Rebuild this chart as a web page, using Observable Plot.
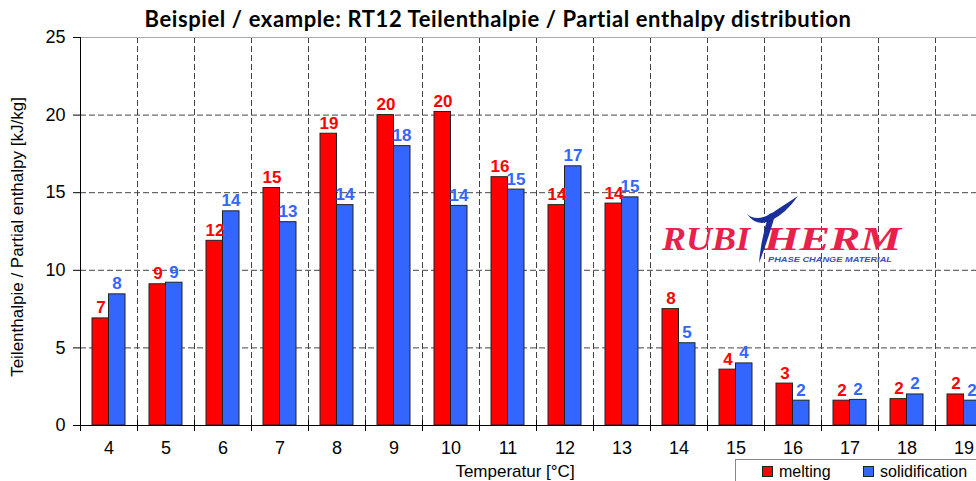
<!DOCTYPE html>
<html>
<head>
<meta charset="utf-8">
<script src="https://cdn.jsdelivr.net/npm/d3@7"></script>
<script src="https://cdn.jsdelivr.net/npm/@observablehq/plot@0.6"></script>
<style>
  html, body { margin: 0; padding: 0; background: white; overflow: hidden; }
  #wrap { position: relative; width: 976px; height: 481px; overflow: hidden; background: white; }
  #wrap svg { position: absolute; left: 0; top: 0; }
  .title { position: absolute; left: 10px; width: 976px; top: 5px; text-align: center;
    font-family: Lato, "Open Sans", sans-serif; font-weight: 700; font-size: 22px; letter-spacing: 0.6px; color: #000; white-space: nowrap; }
  .ylabel { position: absolute; left: 18px; top: 237px; transform: translate(-50%, -50%) rotate(-90deg);
    font-family: "Liberation Sans", Arial, sans-serif; font-size: 17px; white-space: nowrap; color: #000; }
  .xlabel { position: absolute; left: 515px; top: 472px; transform: translate(-50%, -50%);
    font-family: "Liberation Sans", Arial, sans-serif; font-size: 17px; white-space: nowrap; color: #000; }
  .legend { position: absolute; left: 735px; top: 459px; width: 300px; height: 40px; border: 1px solid #888;
    background: white; font-family: "Liberation Sans", Arial, sans-serif; font-size: 16px; color: #000; }
  .legend span.item { position: absolute; top: 3px; white-space: nowrap; }
  .legend span.sw { display: inline-block; width: 9px; height: 9px; border: 1px solid #222; margin-right: 6px; vertical-align: 0px; }
  .logo { position: absolute; left: 0; top: 0; }
</style>
</head>
<body>
<div id="wrap">
  <div id="chart"></div>
  <div class="title">Beispiel / example: RT12 Teilenthalpie / Partial enthalpy distribution</div>
  <div class="ylabel">Teilenthalpie / Partial enthalpy [kJ/kg]</div>
  <div class="xlabel">Temperatur [°C]</div>
  <div class="legend">
    <span class="item" style="left:26px"><span class="sw" style="background:#ff0000"></span>melting</span>
    <span class="item" style="left:127px"><span class="sw" style="background:#3366ff"></span>solidification</span>
  </div>
  <svg class="logo" width="976" height="481" xmlns="http://www.w3.org/2000/svg">
    <text x="662" y="250" font-family="'Liberation Serif', serif" font-style="italic" font-weight="700" font-size="33" fill="#e8204c" textLength="88" lengthAdjust="spacingAndGlyphs">RUBI</text>
    <text x="764" y="250" font-family="'Liberation Serif', serif" font-style="italic" font-weight="700" font-size="33" fill="#e8204c" textLength="137" lengthAdjust="spacingAndGlyphs">HERM</text>
    <path d="M747 214 Q758 224 778 209 L798 196 Q786 213 772 220 Q757 228 747 214 Z" fill="#1a2f9a"/>
    <path d="M769 214 L776 212 Q768 240 759 263 Q761 238 769 214 Z" fill="#1a2f9a"/>
    <text x="768" y="262" font-family="'Liberation Sans', Arial, sans-serif" font-style="italic" font-weight="700" font-size="8" fill="#3b4dbb" textLength="124" lengthAdjust="spacingAndGlyphs">PHASE CHANGE MATERIAL</text>
  </svg>
</div>
<script>
const temps = [4, 5, 6, 7, 8, 9, 10, 11, 12, 13, 14, 15, 16, 17, 18, 19];
const melting = [6.9, 9.1, 11.9, 15.3, 18.8, 20.0, 20.2, 16.0, 14.2, 14.3, 7.5, 3.6, 2.7, 1.6, 1.7, 2.0];
const solidification = [8.45, 9.2, 13.8, 13.1, 14.2, 18.0, 14.15, 15.2, 16.7, 14.7, 5.3, 4.0, 1.6, 1.65, 2.0, 1.6];
const yTicks = [0, 5, 10, 15, 20, 25];
const gridY = [5, 10, 15, 20];

const rows = temps.map((t, i) => ({temp: t, melting: melting[i], solidification: solidification[i]}));

const RED = "#ff0000";
const BLUE = "#3366ff";
const half = 28.5;

const chart = Plot.plot({
  width: 976,
  height: 481,
  marginLeft: 80,
  marginRight: 0,
  marginTop: 37,
  marginBottom: 56,
  style: {fontFamily: "'Liberation Sans', Arial, sans-serif", fontSize: "16px", background: "transparent", color: "#000"},
  x: {type: "band", domain: temps, range: [80, 992], padding: 0},
  y: {domain: [0, 25], range: [425, 37]},
  marks: [
    Plot.ruleX(temps.slice(1), {x: d => d, dx: -half, stroke: "#444", strokeDasharray: "6,3"}),
    Plot.ruleY(gridY, {stroke: "#444", strokeDasharray: "6,3"}),
    Plot.ruleY([25], {stroke: "#aaa"}),
    Plot.barY(rows, {x: "temp", y: "melting", fill: RED, stroke: "#222", strokeWidth: 1, insetLeft: 12, insetRight: half}),
    Plot.barY(rows, {x: "temp", y: "solidification", fill: BLUE, stroke: "#222", strokeWidth: 1, insetLeft: half, insetRight: 12}),
    Plot.ruleY([0], {stroke: "#000"}),
    Plot.ruleX([temps[0]], {x: d => d, dx: -half, stroke: "#000"}),
    Plot.ruleX(temps, {x: d => d, dx: -half, stroke: "#000", insetTop: 383, insetBottom: -6}),
    Plot.axisY({ticks: yTicks, tickSize: 7, tickPadding: 8, fontSize: 18, label: null}),
    Plot.axisX({tickSize: 0, tickPadding: 16, fontSize: 18, label: null}),
    Plot.text(rows, {x: "temp", y: "melting", text: d => String(Math.round(d.melting)), dx: -8, dy: -5,
      lineAnchor: "bottom", fill: RED, fontWeight: "bold", fontSize: 17}),
    Plot.text(rows, {x: "temp", y: "solidification", text: d => String(Math.round(d.solidification)), dx: 8, dy: -5,
      lineAnchor: "bottom", fill: BLUE, fontWeight: "bold", fontSize: 17})
  ]
});
document.getElementById("chart").appendChild(chart);
</script>
</body>
</html>
